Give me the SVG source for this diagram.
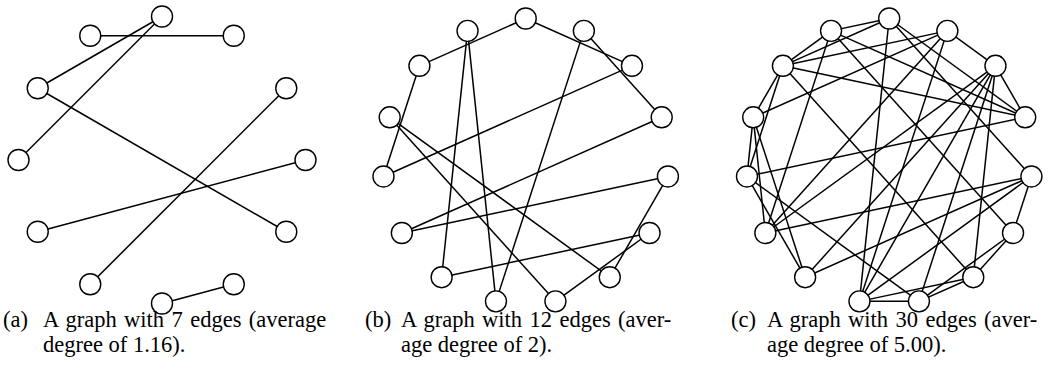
<svg xmlns="http://www.w3.org/2000/svg" width="1053" height="389" viewBox="0 0 1053 389">
<style>
.e{stroke:#000;stroke-width:1.5;fill:none}
.n circle{fill:#fff;stroke:#000;stroke-width:1.4}
.t{font-family:"Liberation Serif","Times New Roman",serif;font-size:22.5px;fill:#000}
</style>
<rect width="1053" height="389" fill="#fff"/>
<g id="edges-a" class="e">
<line x1="90.25" y1="35.73" x2="233.75" y2="35.73"/>
<line x1="162" y1="16.5" x2="37.73" y2="88.25"/>
<line x1="162" y1="16.5" x2="18.5" y2="160"/>
<line x1="37.73" y1="88.25" x2="286.27" y2="231.75"/>
<line x1="286.27" y1="88.25" x2="90.25" y2="284.27"/>
<line x1="305.5" y1="160" x2="37.73" y2="231.75"/>
<line x1="162" y1="303.5" x2="233.75" y2="284.27"/>
</g>
<g id="nodes-a" class="n">
<circle id="a0" cx="162" cy="16.5" r="10.5"/>
<circle id="a1" cx="233.75" cy="35.73" r="10.5"/>
<circle id="a2" cx="286.27" cy="88.25" r="10.5"/>
<circle id="a3" cx="305.5" cy="160" r="10.5"/>
<circle id="a4" cx="286.27" cy="231.75" r="10.5"/>
<circle id="a5" cx="233.75" cy="284.27" r="10.5"/>
<circle id="a6" cx="162" cy="303.5" r="10.5"/>
<circle id="a7" cx="90.25" cy="284.27" r="10.5"/>
<circle id="a8" cx="37.73" cy="231.75" r="10.5"/>
<circle id="a9" cx="18.5" cy="160" r="10.5"/>
<circle id="a10" cx="37.73" cy="88.25" r="10.5"/>
<circle id="a11" cx="90.25" cy="35.73" r="10.5"/>
</g>
<g id="edges-b" class="e">
<line x1="419.43" y1="65.82" x2="525.7" y2="18.5"/>
<line x1="525.7" y1="18.5" x2="631.97" y2="65.82"/>
<line x1="583.86" y1="30.87" x2="661.7" y2="117.31"/>
<line x1="467.54" y1="30.87" x2="441.64" y2="277.19"/>
<line x1="467.54" y1="30.87" x2="495.97" y2="301.37"/>
<line x1="583.86" y1="30.87" x2="495.97" y2="301.37"/>
<line x1="419.43" y1="65.82" x2="383.48" y2="176.45"/>
<line x1="631.97" y1="65.82" x2="383.48" y2="176.45"/>
<line x1="389.7" y1="117.31" x2="609.76" y2="277.19"/>
<line x1="389.7" y1="117.31" x2="555.43" y2="301.37"/>
<line x1="661.7" y1="117.31" x2="401.86" y2="233"/>
<line x1="667.92" y1="176.45" x2="401.86" y2="233"/>
<line x1="667.92" y1="176.45" x2="609.76" y2="277.19"/>
<line x1="649.54" y1="233" x2="441.64" y2="277.19"/>
<line x1="649.54" y1="233" x2="555.43" y2="301.37"/>
</g>
<g id="nodes-b" class="n">
<circle id="b0" cx="525.7" cy="18.5" r="10.5"/>
<circle id="b1" cx="583.86" cy="30.87" r="10.5"/>
<circle id="b2" cx="631.97" cy="65.82" r="10.5"/>
<circle id="b3" cx="661.7" cy="117.31" r="10.5"/>
<circle id="b4" cx="667.92" cy="176.45" r="10.5"/>
<circle id="b5" cx="649.54" cy="233" r="10.5"/>
<circle id="b6" cx="609.76" cy="277.19" r="10.5"/>
<circle id="b7" cx="555.43" cy="301.37" r="10.5"/>
<circle id="b8" cx="495.97" cy="301.37" r="10.5"/>
<circle id="b9" cx="441.64" cy="277.19" r="10.5"/>
<circle id="b10" cx="401.86" cy="233" r="10.5"/>
<circle id="b11" cx="383.48" cy="176.45" r="10.5"/>
<circle id="b12" cx="389.7" cy="117.31" r="10.5"/>
<circle id="b13" cx="419.43" cy="65.82" r="10.5"/>
<circle id="b14" cx="467.54" cy="30.87" r="10.5"/>
</g>
<g id="edges-c" class="e">
<line x1="831.04" y1="30.87" x2="889.2" y2="18.5"/>
<line x1="831.04" y1="30.87" x2="782.93" y2="65.82"/>
<line x1="782.93" y1="65.82" x2="753.2" y2="117.31"/>
<line x1="782.93" y1="65.82" x2="889.2" y2="18.5"/>
<line x1="782.93" y1="65.82" x2="947.36" y2="30.87"/>
<line x1="753.2" y1="117.31" x2="947.36" y2="30.87"/>
<line x1="782.93" y1="65.82" x2="1025.2" y2="117.31"/>
<line x1="831.04" y1="30.87" x2="1025.2" y2="117.31"/>
<line x1="889.2" y1="18.5" x2="1025.2" y2="117.31"/>
<line x1="889.2" y1="18.5" x2="859.47" y2="301.37"/>
<line x1="947.36" y1="30.87" x2="995.47" y2="65.82"/>
<line x1="995.47" y1="65.82" x2="1025.2" y2="117.31"/>
<line x1="753.2" y1="117.31" x2="746.98" y2="176.45"/>
<line x1="782.93" y1="65.82" x2="746.98" y2="176.45"/>
<line x1="753.2" y1="117.31" x2="765.36" y2="233"/>
<line x1="753.2" y1="117.31" x2="805.14" y2="277.19"/>
<line x1="746.98" y1="176.45" x2="805.14" y2="277.19"/>
<line x1="831.04" y1="30.87" x2="765.36" y2="233"/>
<line x1="746.98" y1="176.45" x2="1025.2" y2="117.31"/>
<line x1="746.98" y1="176.45" x2="918.93" y2="301.37"/>
<line x1="765.36" y1="233" x2="947.36" y2="30.87"/>
<line x1="765.36" y1="233" x2="995.47" y2="65.82"/>
<line x1="765.36" y1="233" x2="1031.42" y2="176.45"/>
<line x1="805.14" y1="277.19" x2="1031.42" y2="176.45"/>
<line x1="805.14" y1="277.19" x2="995.47" y2="65.82"/>
<line x1="859.47" y1="301.37" x2="947.36" y2="30.87"/>
<line x1="859.47" y1="301.37" x2="995.47" y2="65.82"/>
<line x1="918.93" y1="301.37" x2="995.47" y2="65.82"/>
<line x1="973.26" y1="277.19" x2="995.47" y2="65.82"/>
<line x1="859.47" y1="301.37" x2="1031.42" y2="176.45"/>
<line x1="1031.42" y1="176.45" x2="1013.04" y2="233"/>
<line x1="1013.04" y1="233" x2="973.26" y2="277.19"/>
<line x1="1013.04" y1="233" x2="918.93" y2="301.37"/>
<line x1="973.26" y1="277.19" x2="918.93" y2="301.37"/>
<line x1="859.47" y1="301.37" x2="918.93" y2="301.37"/>
<line x1="859.47" y1="301.37" x2="973.26" y2="277.19"/>
<line x1="782.93" y1="65.82" x2="973.26" y2="277.19"/>
<line x1="831.04" y1="30.87" x2="1013.04" y2="233"/>
<line x1="889.2" y1="18.5" x2="1031.42" y2="176.45"/>
</g>
<g id="nodes-c" class="n">
<circle id="c0" cx="889.2" cy="18.5" r="10.5"/>
<circle id="c1" cx="947.36" cy="30.87" r="10.5"/>
<circle id="c2" cx="995.47" cy="65.82" r="10.5"/>
<circle id="c3" cx="1025.2" cy="117.31" r="10.5"/>
<circle id="c4" cx="1031.42" cy="176.45" r="10.5"/>
<circle id="c5" cx="1013.04" cy="233" r="10.5"/>
<circle id="c6" cx="973.26" cy="277.19" r="10.5"/>
<circle id="c7" cx="918.93" cy="301.37" r="10.5"/>
<circle id="c8" cx="859.47" cy="301.37" r="10.5"/>
<circle id="c9" cx="805.14" cy="277.19" r="10.5"/>
<circle id="c10" cx="765.36" cy="233" r="10.5"/>
<circle id="c11" cx="746.98" cy="176.45" r="10.5"/>
<circle id="c12" cx="753.2" cy="117.31" r="10.5"/>
<circle id="c13" cx="782.93" cy="65.82" r="10.5"/>
<circle id="c14" cx="831.04" cy="30.87" r="10.5"/>
</g>
<g id="captions" class="t">
<text x="3" y="327">(a)</text>
<text x="43" y="327" word-spacing="1.8">A graph with 7 edges (average</text>
<text x="43" y="352">degree of 1.16).</text>
<text x="365" y="327">(b)</text>
<text x="401" y="327" word-spacing="1.8">A graph with 12 edges (aver-</text>
<text x="401" y="352">age degree of 2).</text>
<text x="731" y="327">(c)</text>
<text x="767" y="327" word-spacing="1.8">A graph with 30 edges (aver-</text>
<text x="767" y="352">age degree of 5.00).</text>
</g>
</svg>
